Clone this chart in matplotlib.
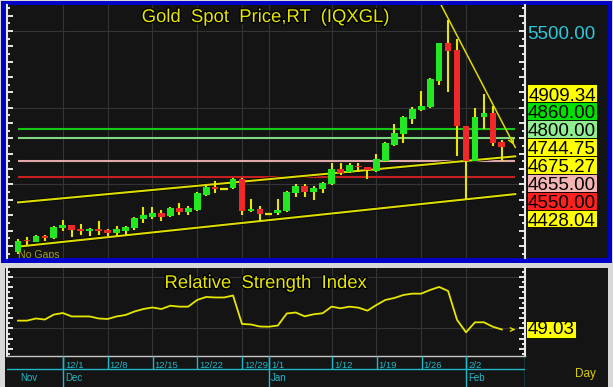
import numpy as np
import pandas as pd
import matplotlib
matplotlib.use("Agg")
import matplotlib.pyplot as plt
from matplotlib.patches import Rectangle
from matplotlib.ticker import MultipleLocator
import matplotlib.transforms as mtransforms
import matplotlib.patheffects as pe

plt.rcParams['font.family'] = ['Liberation Sans', 'DejaVu Sans']

# ---------------- data ----------------
dates = pd.bdate_range('2025-11-24', '2026-02-06')
opens = [4062, 4138, 4127, 4164, 4149, 4219, 4234, 4210, 4195, 4210,
         4202, 4182, 4199, 4215, 4273, 4290, 4312, 4295, 4345, 4323,
         4334, 4432, 4486, 4473, 4475, 4534, 4329, 4342, 4310, 4312,
         4327, 4443, 4490, 4451, 4469, 4503, 4599, 4583, 4622, 4616,
         4588, 4655, 4757, 4829, 4929, 4985, 5003, 5176, 5420, 5376,
         4883, 4655, 4938, 4964, 4775]
highs = [4143, 4156, 4173, 4171, 4230, 4269, 4236, 4243, 4217, 4262,
         4212, 4228, 4230, 4286, 4351, 4351, 4334, 4351, 4377, 4360,
         4451, 4490, 4525, 4473, 4540, 4540, 4404, 4360, 4310, 4404,
         4460, 4503, 4503, 4490, 4518, 4638, 4638, 4642, 4638, 4616,
         4697, 4779, 4894, 4946, 5003, 5111, 5194, 5420, 5572, 5446,
         4883, 4996, 5090, 5011, 4790]
lows = [4047, 4106, 4123, 4134, 4143, 4197, 4160, 4171, 4164, 4171,
        4167, 4164, 4169, 4204, 4251, 4275, 4264, 4286, 4301, 4301,
        4329, 4425, 4443, 4473, 4469, 4301, 4319, 4262, 4310, 4299,
        4323, 4417, 4417, 4399, 4443, 4497, 4562, 4577, 4583, 4534,
        4583, 4649, 4751, 4768, 4894, 4981, 4996, 5148, 5105, 4686,
        4399, 4655, 4860, 4753, 4655]
closes = [4134, 4131, 4164, 4149, 4225, 4234, 4202, 4195, 4210, 4195,
          4186, 4210, 4225, 4282, 4299, 4312, 4290, 4345, 4323, 4345,
          4443, 4482, 4473, 4473, 4534, 4329, 4342, 4310, 4310, 4334,
          4451, 4490, 4451, 4477, 4508, 4599, 4577, 4625, 4612, 4594,
          4664, 4768, 4834, 4938, 4994, 5011, 5185, 5420, 5370, 4883,
          4655, 4942, 4964, 4768, 4745]
rsi = [57.6, 57.6, 59.7, 58.7, 63.5, 65.0, 61.7, 61.7, 61.7, 59.7,
       59.2, 61.7, 63.1, 66.5, 68.9, 70.4, 68.9, 72.1, 71.2, 71.2,
       77.7, 80.6, 80.1, 80.1, 82.0, 54.4, 53.9, 51.9, 51.7, 52.9,
       64.6, 65.5, 61.8, 63.8, 64.8, 71.2, 69.6, 71.2, 70.2, 67.3,
       72.8, 77.7, 79.6, 82.5, 83.8, 83.8, 87.4, 90.3, 86.4, 58.3,
       46.3, 56.0, 56.0, 51.7, 49.03]

level_values = [4909.34, 4860.00, 4800.00, 4744.75, 4675.27, 4655.00, 4550.00, 4428.04]
level_colors = ['#ffff00', '#00e000', '#90ee90', '#ffff00', '#ffff00', '#f4b4b4', '#ff2020', '#ffff00']
hline_values = [4860.00, 4800.00, 4655.00, 4550.00]
hline_colors = ['#14c814', '#80d880', '#e0a8a8', '#c82020']
upper_channel = [(0, 4383.0), (54, 4675.27)]
lower_channel = [(0, 4095.0), (54, 4428.04)]
down_trend = [(48, 5582.0), (54, 4909.34)]
scale_value = 5500
grid_prices = [4500, 5000, 5500]
rsi_grid = [50, 100]
week_labels = ['12/1', '12/8', '12/15', '12/22', '12/29', '1/1', '1/12', '1/19', '1/26', '2/2']
week_dates = ['2025-12-01', '2025-12-08', '2025-12-15', '2025-12-22', '2025-12-29',
              '2026-01-01', '2026-01-12', '2026-01-19', '2026-01-26', '2026-02-02']
month_labels = ['Nov', 'Dec', 'Jan', 'Feb']
month_dates = ['2025-11-24', '2025-12-01', '2026-01-01', '2026-02-02']

# ---------------- style ----------------
W, H = 613, 387
DARK = '#141414'
YEL = '#e6e600'
CYAN = '#22b8c8'
GRID = '#343434'
GREEN = '#22e822'
RED = '#f02828'

o = np.array(opens, float); h = np.array(highs, float)
l = np.array(lows, float); c = np.array(closes, float)
idx = np.arange(len(dates))
date_list = list(dates.strftime('%Y-%m-%d'))
week_idx = [date_list.index(d) for d in week_dates]
month_idx = [date_list.index(d) for d in month_dates]

fig = plt.figure(figsize=(W / 100, H / 100), dpi=100, facecolor='#d8d8d8')

bg = fig.add_axes([0, 0, 1, 1])
bg.set_xlim(0, W); bg.set_ylim(H, 0); bg.axis('off')
bg.add_patch(Rectangle((0.5, 0.5), 611, 262.5, fc='#0000c8', ec='none'))
bg.add_patch(Rectangle((5, 5), 602.5, 253, fc=DARK, ec='none'))
bg.add_patch(Rectangle((5, 268), 603, 119, fc=DARK, ec='none'))


def px_axes(x0, y0, x1, y1, **kw):
    return fig.add_axes([x0 / W, 1 - y1 / H, (x1 - x0) / W, (y1 - y0) / H], **kw)


ax = px_axes(6.5, 5, 524.5, 258)
ax_r = px_axes(6.5, 268, 524.5, 356, sharex=ax)
ax_t = px_axes(6.5, 356, 525, 387, sharex=ax)

for a in (ax, ax_r):
    a.set_facecolor(DARK)
    a.spines['top'].set_visible(False)
    for s in ('left', 'right'):
        a.spines[s].set_color('#e8e8e8'); a.spines[s].set_linewidth(1.5)
    a.tick_params(axis='x', bottom=False, labelbottom=False)
    a.tick_params(axis='y', which='both', direction='in', left=True, right=True,
                  labelleft=False, labelright=False, colors='#e8e8e8', width=1.4)
    a.tick_params(axis='y', which='major', length=4.3)
    a.tick_params(axis='y', which='minor', length=2.5)
ax.spines['bottom'].set_visible(False)
ax_r.spines['bottom'].set_color('#c8c8c8'); ax_r.spines['bottom'].set_linewidth(1)

ax.set_xlim((6.5 - 18) / 8.96, (524.5 - 18) / 8.96)
ax.set_ylim(4021, 5669)
ax.yaxis.set_major_locator(MultipleLocator(100))
ax.yaxis.set_minor_locator(MultipleLocator(50))
ax_r.set_ylim(23.3, 108.7)
ax_r.yaxis.set_major_locator(MultipleLocator(10))
ax_r.yaxis.set_minor_locator(MultipleLocator(5))

# grid
for p in grid_prices:
    ax.axhline(p, color=GRID, lw=0.8, zorder=0.5)
for v in rsi_grid:
    ax_r.axhline(v, color=GRID, lw=0.8, zorder=0.5)
for i in week_idx:
    ax.axvline(i, color=GRID, lw=0.8, zorder=0.5)
    ax_r.axvline(i, color=GRID, lw=0.8, zorder=0.5)

line_end = 55.5
ax.hlines(hline_values, 0, line_end, colors=hline_colors, lw=1.5, zorder=2)

stroke = [pe.Stroke(linewidth=2.6, foreground='black'), pe.Normal()]
for (x0, y0), (x1, y1) in (upper_channel, lower_channel):
    xs = np.array([x0, line_end])
    ys = y0 + (y1 - y0) / (x1 - x0) * (xs - x0)
    ax.plot(xs, ys, color='#dcdc00', lw=1.5, zorder=2.5, path_effects=stroke)
(x0, y0), (x1, y1) = down_trend
slope = (y1 - y0) / (x1 - x0)
xs = np.array([46.5, line_end])
ys = y0 + slope * (xs - x0)
ax.plot(xs, ys, color='#dcdc00', lw=1.1, zorder=2.6)
ax.annotate('', xy=(xs[1], ys[1]), xytext=(xs[1] - 0.5, ys[1] - slope * 0.5),
            arrowprops=dict(arrowstyle='->', color='#dcdc00', lw=1.1, mutation_scale=9),
            zorder=2.6)

# candles
flat = h == l
up = c >= o
min_h = 7.0
body_h = np.abs(c - o)
mid = (o + c) / 2
body_bot = np.where(body_h < min_h, mid - min_h / 2, np.minimum(o, c))
body_h = np.maximum(body_h, min_h)
nf = ~flat
ax.vlines(idx[nf], l[nf], h[nf], color=YEL, lw=1.5, zorder=3)
ax.bar(idx[nf], body_h[nf], bottom=body_bot[nf], width=0.75,
       color=np.where(up[nf], GREEN, RED), zorder=4, linewidth=0)
ax.hlines(c[flat], idx[flat] - 0.4, idx[flat] + 0.4, color=YEL, lw=1.6, zorder=4)

# titles
tstroke = [pe.withStroke(linewidth=2, foreground='black')]
ax.text(0.5, (258 - 22) / 253, 'Gold  Spot  Price,RT  (IQXGL)', transform=ax.transAxes,
        ha='center', va='baseline', fontsize=13.3, color=YEL, zorder=6, path_effects=tstroke)
ax.text((18 - 6.5) / 518, (258 - 258.5) / 253, 'No Gaps', transform=ax.transAxes,
        ha='left', va='baseline', fontsize=7.6, color='#9c9c28', zorder=6, clip_on=True)
ax_r.text(0.5, (356 - 288) / 88, 'Relative  Strength  Index', transform=ax_r.transAxes,
          ha='center', va='baseline', fontsize=13.3, color=YEL, zorder=6, path_effects=tstroke)

# RSI
ax_r.plot(idx, rsi, color=YEL, lw=1.3, zorder=3)
ax_r.annotate('', xy=(55.8, rsi[-1]), xytext=(55.0, rsi[-1]),
              arrowprops=dict(arrowstyle='->', color=YEL, lw=1.0, mutation_scale=6),
              annotation_clip=False)
off_b = mtransforms.ScaledTranslation(0, -4.5 / 100, fig.dpi_scale_trans)
tr_r = mtransforms.blended_transform_factory(bg.transData, ax_r.transData)
ax_r.add_patch(Rectangle((526, rsi[-1] - 8.3 / 1.03), 50, 16.7 / 1.03, transform=tr_r,
                         fc='#ffff00', ec='black', lw=0.6, clip_on=False, zorder=6))
ax_r.text(551, rsi[-1], f'{rsi[-1]:.2f}', transform=tr_r + off_b, ha='center', va='baseline',
          fontsize=13.5, color='black', clip_on=False, zorder=7)

# price scale label
tr_p = mtransforms.blended_transform_factory(bg.transData, ax.transData)
off_s = mtransforms.ScaledTranslation(0, -8.3 / 100, fig.dpi_scale_trans)
ax.text(527, scale_value, f'{scale_value:.2f}', transform=tr_p + off_s, ha='left', va='baseline',
        fontsize=13.5, color='#30c8d8', clip_on=False)

# stacked value labels
top0, bh = 84.3, 17.9
for k, (v, col) in enumerate(zip(level_values, level_colors)):
    y0b = top0 + k * bh
    bg.add_patch(Rectangle((527, y0b), 70, bh, fc=col, ec='black', lw=0.6, zorder=5))
    bg.text(562, y0b + 16.3, f'{v:.2f}', ha='center', va='baseline', fontsize=13.5,
            color='black', zorder=6)

bg.text(585, 377, 'Day', ha='center', va='baseline', fontsize=8.5, color='#d8d000')

# time axis
ax_t.set_axis_off()
ax_t.set_ylim(31, 0)
ax_t.axhline(13, color=CYAN, lw=1.0)
ax_t.vlines(week_idx, 0, 13, color=CYAN, lw=1.0)
ax_t.vlines(month_idx[1:], 0, 31, color=CYAN, lw=1.0)
ax_t.plot([1, 1], [0, 1], transform=ax_t.transAxes, color=CYAN, lw=1.0)
off_t = mtransforms.ScaledTranslation(2 / 100, 0, fig.dpi_scale_trans)
for i, lab in zip(week_idx, week_labels):
    ax_t.text(i, 12.3, lab, transform=ax_t.transData + off_t, ha='left', va='baseline',
              fontsize=6.8, color=CYAN)
for i, lab in zip(month_idx, month_labels):
    ax_t.text(i, 25, lab, transform=ax_t.transData + off_t, ha='left', va='baseline',
              fontsize=7, color=CYAN)

fig.savefig('out.png', dpi=100, facecolor=fig.get_facecolor())
